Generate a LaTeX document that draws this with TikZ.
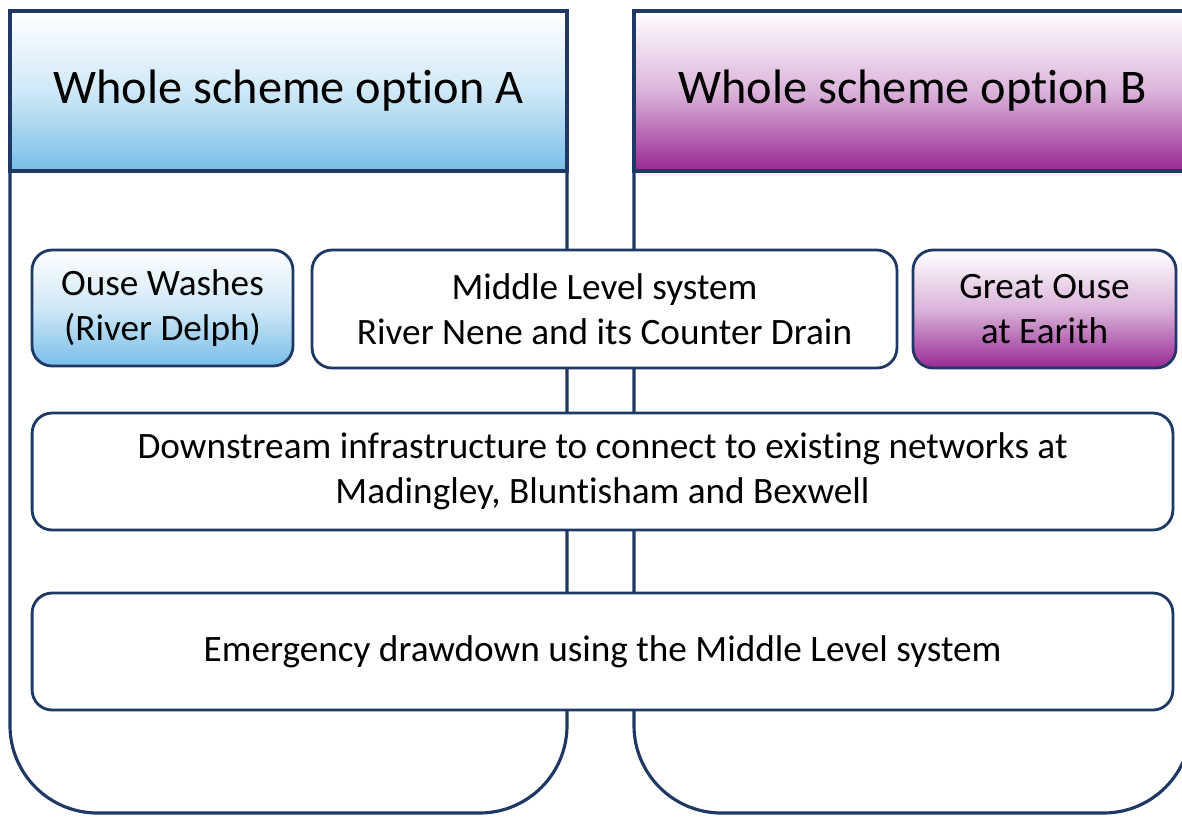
\documentclass[tikz,border=0pt]{standalone}
\usepackage{fontspec}
\setmainfont{Carlito}[Ligatures=NoCommon]
\definecolor{navy}{RGB}{31,56,100}
\definecolor{skyA}{RGB}{120,190,232}
\definecolor{plumB}{RGB}{152,40,148}
\tikzset{
  panel/.style={draw=navy,line width=1.8pt,rounded corners=1.75cm},
  head/.style={draw=navy,line width=1.8pt,minimum width=11.14cm,minimum height=3.2cm,inner sep=0pt,font=\fontsize{27.5}{33}\selectfont},
  item/.style={draw=navy,line width=1.6pt,fill=white,rounded corners=0.4cm,align=center,inner sep=0pt,font=\fontsize{21.2}{25.5}\selectfont},
}
\begin{document}
\begin{tikzpicture}[x=0.02cm,y=-0.02cm]
\useasboundingbox(0,0)rectangle(1182,816);
\clip(0,0)rectangle(1182,816);
\foreach \px/\tint/\opt in {10/skyA/A,634/plumB/B}{
  \draw[panel](\px,170)--(\px,813)--(\px+557,813)--(\px+557,170);
  \node[head,top color=white,bottom color=\tint,middle color=\tint!35!white](head\opt) at (\px+278.5,91){Whole scheme option \opt};
}
\node[item,minimum width=5.22cm,minimum height=2.32cm,top color=white,bottom color=skyA,middle color=skyA!35!white](ouse) at (162.5,308){Ouse Washes\\(River Delph)};
\node[item,minimum width=11.7cm,minimum height=2.36cm](middle) at (604.5,309){Middle Level system\\River Nene and its Counter Drain};
\node[item,minimum width=5.26cm,minimum height=2.36cm,top color=white,bottom color=plumB,middle color=plumB!35!white](earith) at (1044.5,309){Great Ouse\\at Earith};
\node[item,minimum width=22.82cm,minimum height=2.34cm](down) at (602.5,471.5){Downstream infrastructure to connect to existing networks at\\Madingley, Bluntisham and Bexwell};
\node[item,minimum width=22.82cm,minimum height=2.34cm](emerg) at (602.5,651.5){Emergency drawdown using the Middle Level system};
\end{tikzpicture}
\end{document}
